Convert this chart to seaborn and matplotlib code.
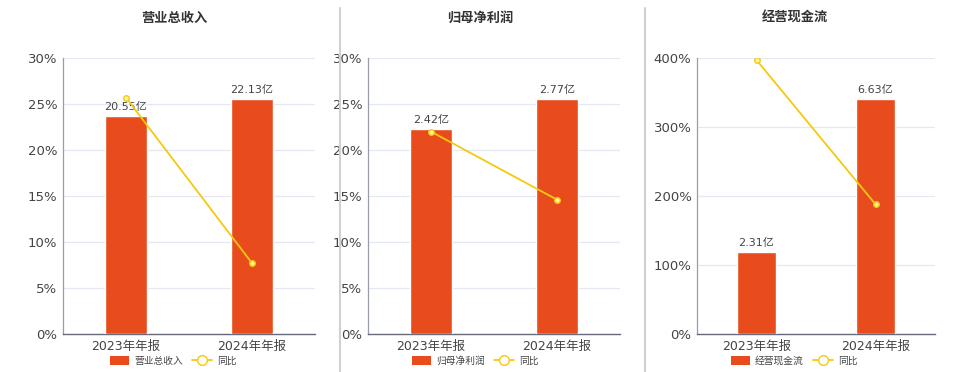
import matplotlib
matplotlib.use("Agg")
import matplotlib.pyplot as plt
import seaborn as sns
import pandas as pd
from matplotlib.lines import Line2D
from matplotlib.patches import Patch
from matplotlib.ticker import FuncFormatter

# data
periods = ["2023年年报", "2024年年报"]
titles = ["营业总收入", "归母净利润", "经营现金流"]
revenue = [20.55, 22.13]
net_profit = [2.42, 2.77]
cash_flow = [2.31, 6.63]
revenue_yoy = [25.7, 7.7]
profit_yoy = [22.0, 14.6]
cash_yoy = [397, 188]
pct_max = [30, 30, 400]
pct_step = [5, 5, 100]

bar_values = [revenue, net_profit, cash_flow]
yoy_values = [revenue_yoy, profit_yoy, cash_yoy]

BAR_COLOR = "#E84C1C"
LINE_COLOR = "#F5C90F"
GRID_COLOR = "#E3E8F3"
TEXT_COLOR = "#444444"

sns.set_style("white")
plt.rcParams["font.family"] = ["DejaVu Sans", "Noto Sans CJK SC"]

fig = plt.figure(figsize=(9.6, 3.72), dpi=100)

# axes rectangles (figure fraction)
lefts = [63 / 960, 368 / 960, 697 / 960]
widths = [252 / 960, 252 / 960, 238 / 960]
title_x = [174 / 960, 480 / 960, 795 / 960]
legend_x = [173 / 960, 475 / 960, 794 / 960]
bottom = 38 / 372
height = 276 / 372

for i in range(3):
    df = pd.DataFrame({"period": periods, "value": bar_values[i], "yoy": yoy_values[i]})

    ax = fig.add_axes([lefts[i], bottom, widths[i], height])
    ax.set_ylim(0, pct_max[i])
    ax.set_yticks(range(0, pct_max[i] + 1, pct_step[i]))
    ax.yaxis.set_major_formatter(FuncFormatter(lambda v, p: f"{v:.0f}%"))
    ax.grid(axis="y", color=GRID_COLOR, linewidth=0.9)
    ax.set_axisbelow(True)
    ax.set_xlim(-0.5, 1.5)
    ax.set_xticks([0, 1])
    ax.set_xticklabels(periods, fontsize=9, color=TEXT_COLOR)
    ax.set_xticks([-0.5, 0.5, 1.5], minor=True)
    ax.tick_params(axis="x", which="major", length=0, pad=4)
    ax.tick_params(axis="x", which="minor", length=4, width=0.8, color="#666a7a")
    ax.tick_params(axis="y", length=0, labelsize=9.5, labelcolor=TEXT_COLOR, pad=4)
    for s in ["top", "right"]:
        ax.spines[s].set_visible(False)
    ax.spines["left"].set_color("#9a9ca8")
    ax.spines["bottom"].set_color("#666a7a")
    ax.spines["left"].set_linewidth(0.9)
    ax.spines["bottom"].set_linewidth(1.0)

    # bars on a hidden scale
    axb = ax.twinx()
    sns.barplot(data=df, x="period", y="value", color=BAR_COLOR, width=0.33,
                saturation=1, ax=axb, zorder=2)
    axb.set_ylim(0, max(bar_values[i]) / 0.85)
    axb.set_xlim(-0.5, 1.5)
    axb.set_yticks([])
    axb.set_ylabel("")
    axb.set_xlabel("")
    for s in axb.spines.values():
        s.set_visible(False)
    axb.bar_label(axb.containers[0], labels=[f"{v:.2f}亿" for v in bar_values[i]],
                  padding=3, fontsize=8, color=TEXT_COLOR)

    # yoy line on top
    axl = ax.twinx()
    sns.lineplot(data=df, x="period", y="yoy", color=LINE_COLOR, linewidth=1.3,
                 marker="o", markersize=4, markerfacecolor="#FFF3A0",
                 markeredgecolor=LINE_COLOR, markeredgewidth=1.0, ax=axl)
    axl.set_ylim(0, pct_max[i])
    axl.set_xlim(-0.5, 1.5)
    axl.set_yticks([])
    axl.set_ylabel("")
    axl.set_xlabel("")
    for s in axl.spines.values():
        s.set_visible(False)
    ax.set_xlabel("")
    ax.set_ylabel("")

    fig.text(title_x[i], 1 - 18 / 372, titles[i], ha="center", va="center",
             fontsize=9.5, fontweight="bold", color="#333333")

    handles = [Patch(facecolor=BAR_COLOR, edgecolor="none"),
               Line2D([0], [0], color=LINE_COLOR, linewidth=1.3, marker="o",
                      markersize=7, markerfacecolor="white", markeredgecolor=LINE_COLOR)]
    fig.legend(handles, [titles[i], "同比"], loc="center",
               bbox_to_anchor=(legend_x[i], 1 - 361 / 372), ncol=2, frameon=False,
               fontsize=7, handlelength=2.0, handleheight=1.0, columnspacing=1.0,
               handletextpad=0.5, labelcolor=TEXT_COLOR)

# panel separators
for x in [340 / 960, 645 / 960]:
    fig.add_artist(Line2D([x, x], [0, 1 - 8 / 372], transform=fig.transFigure,
                          color="#d0d0d0", linewidth=1.5))

fig.savefig("out.png", dpi=100)
